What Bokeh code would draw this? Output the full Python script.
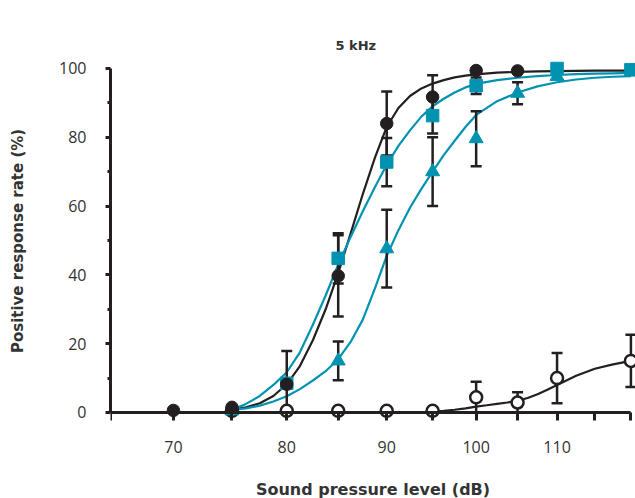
from bokeh.plotting import figure
from bokeh.models import Range1d, FixedTicker, LogAxis
from bokeh.embed import file_html
from bokeh.resources import INLINE

# ---------------- data ----------------
# tick marks / labels of the (logarithmic) sound pressure axis, dB
x_ticks = [65, 70, 75, 80, 85, 90, 95, 100, 105, 110, 115, 120]
x_tick_labels = {70: "70", 80: "80", 90: "90", 100: "100", 110: "110"}
y_ticks = [0, 20, 40, 60, 80, 100]
y_minor_ticks = [10, 30, 50, 70, 90]

# filled black circles
db_filled = [70, 75, 80, 85, 90, 95, 100, 105]
rate_filled = [0.6, 1.5, 8.2, 39.7, 84.0, 91.7, 99.4, 99.3]
err_filled = [0, 0, 9.7, 11.8, 9.3, 6.3, 0, 0]

# teal squares
db_square = [80, 85, 90, 95, 100, 110, 120]
rate_square = [8.5, 44.8, 72.8, 86.3, 95.0, 100.0, 99.6]
err_square = [0, 7.3, 7.0, 5.2, 2.4, 0, 0]

# teal triangles
db_triangle = [75, 85, 90, 95, 100, 105, 110]
rate_triangle = [0.5, 15.0, 47.6, 70.0, 79.6, 92.8, 97.7]
err_triangle = [0, 5.6, 11.3, 10.0, 8.0, 3.2, 0]

# open circles
db_open = [75, 80, 85, 90, 95, 100, 105, 110, 120]
rate_open = [0.5, 0.5, 0.5, 0.5, 0.5, 4.4, 2.9, 10.0, 15.0]
err_open = [0, 0, 0, 0, 0, 4.5, 3.0, 7.3, 7.6]

# fitted curves
fit_db = [75, 76.25, 77.5, 78.75, 80, 81.25, 82.5, 83.75, 85, 86.25, 87.5,
          88.75, 90, 91.25, 92.5, 93.75, 95, 96.25, 97.5, 98.75, 100,
          102.5, 105, 107.5, 110, 112.5, 115, 117.5, 120]
fit_filled = [0.8, 1.5, 2.7, 4.8, 8.2, 13.5, 21.0, 30.0, 40.5, 52.0, 63.5,
              74.0, 83.0, 88.5, 92.0, 94.2, 95.6, 96.6, 97.4, 97.9, 98.3,
              98.8, 99.0, 99.15, 99.25, 99.3, 99.35, 99.38, 99.4]
fit_square = [0.8, 2.5, 4.8, 8.0, 11.7, 17.5, 25.5, 34.0, 43.0, 51.0, 58.5,
              65.5, 72.0, 77.5, 82.0, 86.0, 89.0, 91.2, 93.0, 94.5, 95.5,
              96.6, 97.3, 97.8, 98.1, 98.35, 98.5, 98.6, 98.7]
fit_triangle = [0.8, 1.2, 2.0, 3.2, 4.7, 6.8, 9.3, 12.0, 15.5, 20.5, 27.0,
                36.0, 45.5, 53.0, 59.5, 65.0, 70.0, 74.8, 79.0, 83.0, 86.5,
                90.5, 93.0, 94.8, 96.0, 96.8, 97.3, 97.6, 97.8]
fit_open_db = [95, 96.25, 97.5, 98.75, 100, 101.25, 102.5, 103.75, 105,
               106.25, 107.5, 108.75, 110, 112.5, 115, 117.5, 120]
fit_open = [0.3, 0.5, 0.8, 1.2, 1.7, 2.1, 2.5, 2.9, 3.4, 4.2, 5.3, 6.6, 8.0,
            10.7, 12.7, 14.0, 15.0]

title_text = "5 kHz"
x_title = "Sound pressure level (dB)"
y_title = "Positive response rate (%)"

# ---------------- styling ----------------
BLACK = "#231f20"
TEAL = "#0093b1"
TEXT = "#333333"

p = figure(frame_width=525, frame_height=365, x_axis_type="log",
           x_range=Range1d(65, 120.65), y_range=Range1d(-3.2, 102.9),
           output_backend="svg", toolbar_location=None,
           min_border_left=110, min_border_right=0,
           min_border_top=58, min_border_bottom=75,
           title=title_text)
p.xgrid.visible = False
p.ygrid.visible = False
p.outline_line_color = None
p.background_fill_color = "white"
p.border_fill_color = "white"

p.title.align = "left"
p.title.offset = 225
p.title.standoff = 12
p.title.text_font = "DejaVu Sans"
p.title.text_font_style = "bold"
p.title.text_font_size = "13px"
p.title.text_color = TEXT

# axis line + ticks drawn at y = 0
xa = p.xaxis[0]
xa.fixed_location = 0
xa.bounds = (65, 120)
xa.ticker = FixedTicker(ticks=x_ticks, minor_ticks=[])
xa.major_label_overrides = {t: "" for t in x_ticks}
xa.major_label_text_font_size = "0px"
xa.axis_line_width = 3
xa.axis_line_color = BLACK
xa.major_tick_out = 8
xa.major_tick_in = 0
xa.major_tick_line_width = 3
xa.major_tick_line_color = BLACK
xa.minor_tick_line_color = None

# second axis carrying only the tick labels and the axis title
xl = LogAxis(ticker=FixedTicker(ticks=x_ticks, minor_ticks=[]),
             bounds=(65, 116.5))
xl.major_label_overrides = {t: x_tick_labels.get(t, "") for t in x_ticks}
xl.axis_line_color = None
xl.major_tick_line_color = None
xl.minor_tick_line_color = None
xl.major_tick_out = 0
xl.major_tick_in = 0
xl.major_label_text_font = "Open Sans"
xl.major_label_text_font_size = "16px"
xl.major_label_text_color = TEXT
xl.major_label_standoff = 17
xl.axis_label = x_title
xl.axis_label_text_font = "DejaVu Sans"
xl.axis_label_text_font_style = "bold"
xl.axis_label_text_font_size = "16px"
xl.axis_label_text_color = TEXT
xl.axis_label_standoff = 24
p.add_layout(xl, "below")

ya = p.yaxis[0]
ya.bounds = (0, 100)
ya.ticker = FixedTicker(ticks=y_ticks, minor_ticks=y_minor_ticks)
ya.axis_line_width = 3
ya.axis_line_color = BLACK
ya.major_tick_out = 5
ya.major_tick_in = 0
ya.major_tick_line_width = 3
ya.major_tick_line_color = BLACK
ya.minor_tick_out = 3
ya.minor_tick_in = 0
ya.minor_tick_line_width = 3
ya.minor_tick_line_color = BLACK
ya.major_label_text_font = "Open Sans"
ya.major_label_text_font_size = "16px"
ya.major_label_text_color = TEXT
ya.major_label_standoff = 19
ya.axis_label = y_title
ya.axis_label_text_font = "DejaVu Sans"
ya.axis_label_text_font_style = "bold"
ya.axis_label_text_font_size = "15px"
ya.axis_label_text_color = TEXT
ya.axis_label_standoff = 29

# fitted curves
p.line(fit_db, fit_filled, line_color=BLACK, line_width=2.2)
p.line(fit_open_db, fit_open, line_color=BLACK, line_width=2.2)
p.line(fit_db, fit_square, line_color=TEAL, line_width=2.2)
p.line(fit_db, fit_triangle, line_color=TEAL, line_width=2.2)

# error bars (all black)
def error_bars(xs, ys, es):
    bx, lo, hi = [], [], []
    for x, y, e in zip(xs, ys, es):
        if e > 0:
            bx.append(x)
            lo.append(max(y - e, 0))
            hi.append(y + e)
    p.segment(x0=bx, y0=lo, x1=bx, y1=hi, line_color=BLACK, line_width=2.5)
    p.scatter(bx + bx, hi + lo, marker="dash", size=11,
              line_color=BLACK, line_width=2.5)

error_bars(db_open, rate_open, err_open)
error_bars(db_triangle, rate_triangle, err_triangle)
error_bars(db_square, rate_square, err_square)
error_bars(db_filled, rate_filled, err_filled)

# markers
p.scatter(db_open, rate_open, marker="circle", size=12, fill_color="white",
          line_color=BLACK, line_width=2.5)
p.scatter(db_triangle, rate_triangle, marker="triangle", size=14,
          fill_color=TEAL, line_color=TEAL)
p.scatter(db_square, rate_square, marker="square", size=12.5,
          fill_color=TEAL, line_color=TEAL)
p.scatter(db_filled, rate_filled, marker="circle", size=12.5,
          fill_color=BLACK, line_color=BLACK)

open("out.html", "w").write(file_html(p, INLINE))
